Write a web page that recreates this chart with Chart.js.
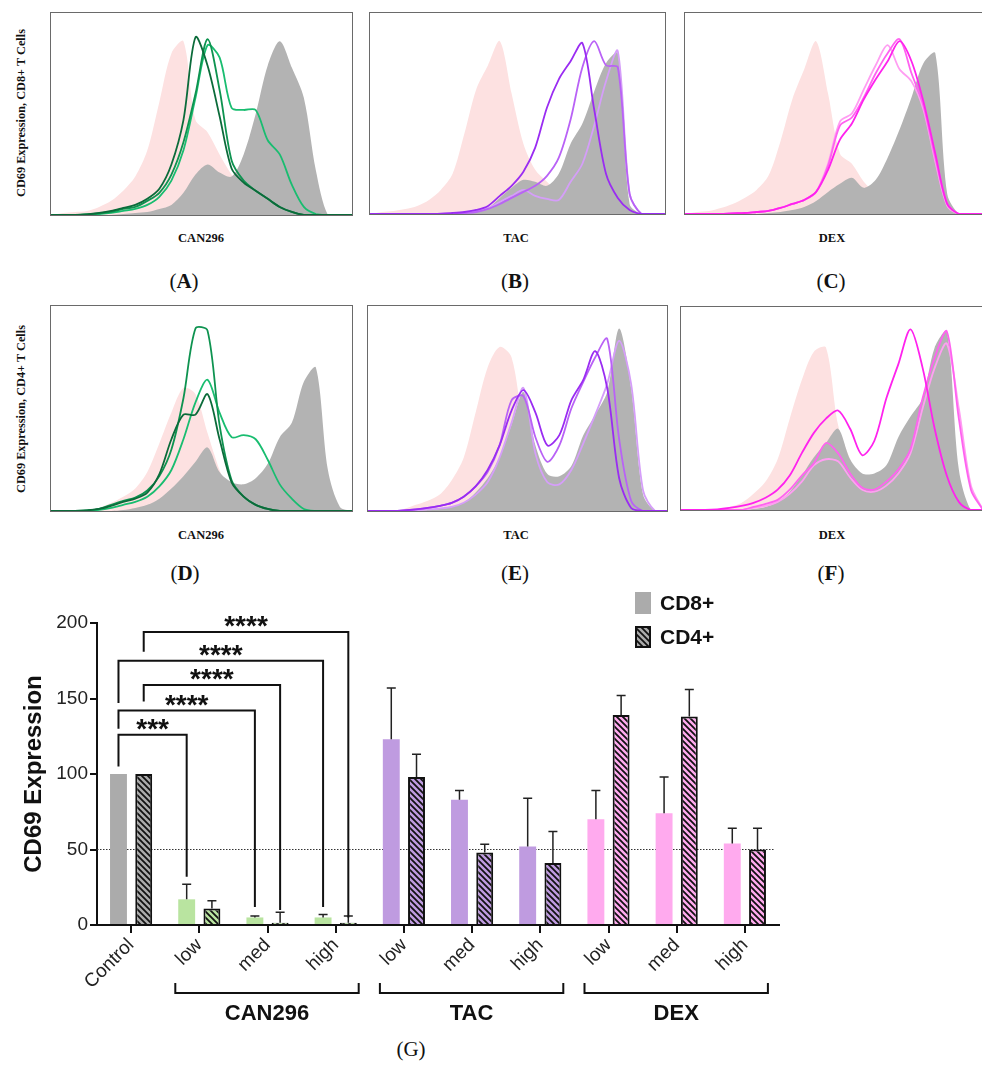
<!DOCTYPE html>
<html>
<head>
<meta charset="utf-8">
<script src="https://cdn.jsdelivr.net/npm/chart.js@4.4.0/dist/chart.umd.min.js"></script>
<style>
  body { margin:0; background:#fff; width:982px; height:1066px; position:relative; overflow:hidden; }
  .box { position:absolute; border:1px solid #6a6a6a; box-sizing:border-box; background:#fff; }
  .box canvas { position:absolute; left:0; top:0; }
  .lbl { position:absolute; font-family:"Liberation Serif","Times New Roman",serif; color:#111; white-space:nowrap; transform:translate(-50%,-50%); }
  .xl { font-weight:bold; font-size:12.5px; }
  .yl { font-weight:bold; font-size:12.3px; transform:translate(-50%,-50%) rotate(-90deg); }
  .pl { font-size:21px; }
  #bars { position:absolute; left:0; top:580px; }
</style>
</head>
<body>

<div class="lbl yl" style="left:21px;top:113px">CD69 Expression, CD8+ T Cells</div>
<div class="lbl yl" style="left:21px;top:409px">CD69 Expression, CD4+ T Cells</div>
<div class="lbl xl" style="left:201px;top:238px">CAN296</div>
<div class="lbl xl" style="left:516px;top:238px">TAC</div>
<div class="lbl xl" style="left:832px;top:238px">DEX</div>
<div class="lbl xl" style="left:201px;top:535px">CAN296</div>
<div class="lbl xl" style="left:516px;top:535px">TAC</div>
<div class="lbl xl" style="left:832px;top:535px">DEX</div>
<div class="lbl pl" style="left:184px;top:281px">(<b>A</b>)</div>
<div class="lbl pl" style="left:515px;top:281px">(<b>B</b>)</div>
<div class="lbl pl" style="left:831px;top:281px">(<b>C</b>)</div>
<div class="lbl pl" style="left:185px;top:573px">(<b>D</b>)</div>
<div class="lbl pl" style="left:515px;top:573px">(<b>E</b>)</div>
<div class="lbl pl" style="left:831px;top:573px">(<b>F</b>)</div>
<div class="lbl pl" style="left:411px;top:1049px">(G)</div>

<canvas id="bars" width="800" height="486"></canvas>

<script>
// ---- histogram data (x = 0..100 % of channel, y = % of panel height) ----
var xs = [0,4,8,12,16,20,24,28,32,36,40,44,48,52,56,60,64,68,72,76,80,84,88,92,96,100];

var pinkA  = [0,1,1.5,2,4,7,12,19,32,56,80,86,47,41,30,20,12,6,3,1,0,0,0,0,0,0];
var grayA  = [0,0,0,0,0,0,0.5,1,1.5,3,5,11,20,25,21,19,30,50,74,86,73,58,22,0,0,0];
var canA1  = [0,0,0,0.3,1,2,3.5,5,8,13,25,47,88,74,49,23,16,12,8,4,1.5,0,0,0,0,0];
var canA2  = [0,0,0,0.3,0.8,1.5,3,4,7,11,20,36,60,87,62,27,17,12,8,4,1.5,0,0,0,0,0];
var canA3  = [0,0,0,0.3,0.5,1,2,3,5,9,17,32,58,84,78,53,52,52,37,30,15,4,0.5,0,0,0];

var pinkB  = [0,1,1.5,2.5,4,7,12,20,40,62,74,86,60,35,22,16,10,6,3,1.5,0.5,0,0,0,0,0];
var grayB  = [0,0,0,0,0,0,0,0,0.5,1.5,3,8,13,17,16,14,20,35,45,61,75,80,5,0,0,0];
var tacB1  = [0,0,0,0,0,0,0.2,0.5,1,2,4,9,14,21,33,53,67,76,85,52,20,8,2,0,0,0];
var tacB2  = [0,0,0,0,0,0,0,0,0.5,1,2.5,5,8,11,14,19,28,47,73,86,74,73,10,0,0,0];
var tacB3  = [0,0,0,0,0,0,0,0.3,0.5,1.5,3,6,9,12,9,7.5,7,16,25,44,66,81,10,0,0,0];

var pinkC  = [0,1,1.5,3,5,8,12,19,36,57,72,86,60,30,25,16,10,6,3,1,0,0,0,0,0,0];
var grayC  = [0,0,0,0,0,0,0,0.5,1,2,3.5,6.5,11,15,18,13,17,28,42,58,75,80,10,0,0,0];
var dexC1  = [0,0,0,0,0.3,0.5,1,1.5,3,5,7,11,22,37,45,57,67,76,86,76,56,30,5,0,0,0];
var dexC2  = [0,0,0,0,0.3,0.5,1,1.5,3,5,7,11,24,44,48,58,70,80,87,70,54,28,5,0,0,0];
var dexC3  = [0,0,0,0,0.3,0.5,1,1.5,3,5,7,11,25,46,50,62,74,84,72,66,52,26,4,0,0,0];

var pinkD  = [0,0,0,0.5,1.5,4,7,11,19,33,48,60,57,38,20,7,2,0,0,0,0,0,0,0,0,0];
var grayD  = [0,0,0,0,0,0,0.5,1.5,3,6,11,17,24,31,19,14,13,16,23,36,43,63,70,20,2,0];
var canD1  = [0,0,0,0.3,1,2.5,4.5,6,9,18,35,47,47,57,35,14,7,3,1,0,0,0,0,0,0,0];
var canD2  = [0,0,0,0.3,1,3,5,6.5,10,17,30,55,89,88,42,15,7,3,1,0,0,0,0,0,0,0];
var canD3  = [0,0,0,0.2,0.5,1.5,3,4.5,7,12,20,35,53,64,48,36,37,35,25,13,6,1,0,0,0,0];

var pinkE  = [0,0,0,1,3,5,8,15,26,48,70,80,75,42,25,10,4,1,0,0,0,0,0,0,0,0];
var grayE  = [0,0,0,0,0,0.5,1,2,4,9,16,26,42,58,32,18,17,22,37,47,58,89,60,8,0,0];
var tacE1  = [0,0,0,0.3,0.8,1.5,2.5,4,7,12,20,32,49,59,48,32,37,54,64,78,60,16,1.5,0,0,0];
var tacE2  = [0,0,0,0.3,0.8,1.5,2.5,4,7,12,19,32,54,56,36,24,32,50,63,75,84,35,5,0,0,0];
var tacE3  = [0,0,0,0,0.3,0.8,1.2,2,4,8,14,26,43,60,28,14,13,20,33,47,62,83,62,10,0,0];

var pinkF  = [0,0,0,0.5,1.5,3.5,8,14,25,45,64,78,80,42,25,10,4,1,0,0,0,0,0,0,0,0];
var grayF  = [0,0,0,0,0,0,0.5,1.5,4,9,17,26,33,40,25,18,18,22,36,46,55,80,88,20,0,0];
var dexF1  = [0,0,0,0.3,1,2,3.5,6,10,17,28,38,45,49,40,27,34,55,72,89,70,40,17,4,0,0];
var dexF2  = [0,0,0,0,0,0,1.5,3,5,10,17,23,33,28,18,11,10,14,20,30,55,75,88,45,10,0];
var dexF3  = [0,0,0,0,0,0,1,2,4,8,14,22,25,24,16,10,9,12,18,28,50,70,82,50,12,0];

var greens   = ["#0b6b3a", "#0e9350", "#19bd70"];
var purples  = ["#9a2cf2", "#b962f6", "#d59ef9"];
var magentas = ["#ff22ee", "#ff62f0", "#ff9ef2"];

// ---- bar chart data ----
var categories = ["Control","low","med","high","low","med","high","low","med","high"];
var cd8Values  = [100, 17, 5, 5, 123, 83, 52, 70, 74, 54];
var cd8Errors  = [0, 10, 1, 2, 34, 6, 32, 19, 24, 10];
var cd4Values  = [100, 11, 1.5, 1.5, 98, 48, 41, 139, 138, 50];
var cd4Errors  = [0, 5, 7, 4.5, 15, 5.5, 21, 13, 18, 14];
var barColors  = ["#ababab","#b9e4a0","#b9e4a0","#b9e4a0","#bf9be0","#bf9be0","#bf9be0","#ffaaee","#ffaaee","#ffaaee"];

var groupNames = ["CAN296", "TAC", "DEX"];
var groupFirst = [1, 4, 7];
var groupLast  = [3, 6, 9];

var refLevel = 50;

var sigLeftSeries  = [0, 0, 1, 0, 1];
var sigRightCat    = [1, 2, 2, 3, 3];
var sigRightSeries = [0, 0, 1, 0, 1];
var sigHeight      = [126, 142, 159, 175, 194];
var sigLeftFoot    = [105, 130, 148, 147, 181];
var sigRightFoot   = [32, 12, 10, 12, 5];
var sigStars       = ["***", "****", "****", "****", "****"];

function pts(arr) {
  return arr.map(function (v, i) { return { x: xs[i], y: v }; });
}

function histograma(left, top, w, h, pink, gray, linhas, cores) {
  var box = document.createElement("div");
  box.className = "box";
  box.style.left = left + "px";
  box.style.top = top + "px";
  box.style.width = w + "px";
  box.style.height = h + "px";
  var cv = document.createElement("canvas");
  cv.width = w - 2;
  cv.height = h - 2;
  box.appendChild(cv);
  document.body.appendChild(box);

  var sets = linhas.map(function (l, i) {
    return { data: pts(l), borderColor: cores[i], borderWidth: 1.8, fill: false, tension: 0.3 };
  });
  sets.push({ data: pts(gray), backgroundColor: "#b3b3b3", borderWidth: 0, fill: "origin", tension: 0.3 });
  sets.push({ data: pts(pink), backgroundColor: "#fde1e1", borderWidth: 0, fill: "origin", tension: 0.3 });

  new Chart(cv.getContext("2d"), {
    type: "line",
    data: { datasets: sets },
    options: {
      responsive: false,
      animation: false,
      events: [],
      layout: { padding: 0 },
      elements: { point: { radius: 0 } },
      plugins: { legend: { display: false }, tooltip: { enabled: false } },
      scales: {
        x: { type: "linear", min: 0, max: 100, display: false },
        y: { min: 0, max: 100, display: false },
      },
    },
  });
}

histograma(50, 12, 303, 204, pinkA, grayA, [canA1, canA2, canA3], greens);
histograma(369, 12, 297, 203, pinkB, grayB, [tacB1, tacB2, tacB3], purples);
histograma(684, 12, 300, 203, pinkC, grayC, [dexC1, dexC2, dexC3], magentas);
histograma(50, 305, 303, 207, pinkD, grayD, [canD1, canD2, canD3], greens);
histograma(367, 305, 301, 207, pinkE, grayE, [tacE1, tacE2, tacE3], purples);
histograma(680, 306, 304, 205, pinkF, grayF, [dexF1, dexF2, dexF3], magentas);

// ---- bar chart (G) ----
function hachura(bg) {
  var s = 6;
  var c = document.createElement("canvas");
  c.width = s;
  c.height = s;
  var g = c.getContext("2d");
  g.fillStyle = bg;
  g.fillRect(0, 0, s, s);
  g.strokeStyle = "#111";
  g.lineWidth = 1.8;
  g.beginPath();
  g.moveTo(-1, -1); g.lineTo(s + 1, s + 1);
  g.moveTo(s - 2, -2); g.lineTo(s + 2, 2);
  g.moveTo(-2, s - 2); g.lineTo(2, s + 2);
  g.stroke();
  return g.createPattern(c, "repeat");
}

var sans = "'Liberation Sans', Arial, sans-serif";

var extras = {
  id: "extras",
  beforeDatasetsDraw: function (chart) {
    var ctx = chart.ctx, a = chart.chartArea;
    var y = chart.scales.y.getPixelForValue(refLevel);
    ctx.save();
    ctx.strokeStyle = "#333";
    ctx.lineWidth = 1;
    ctx.setLineDash([1.5, 1.5]);
    ctx.beginPath();
    ctx.moveTo(a.left, y);
    ctx.lineTo(a.right - 4, y);
    ctx.stroke();
    ctx.restore();
  },
  afterDraw: function (chart) {
    var ctx = chart.ctx, ys = chart.scales.y, xsc = chart.scales.x, a = chart.chartArea;
    ctx.save();

    // error bars
    ctx.strokeStyle = "#222";
    ctx.lineWidth = 1.5;
    [cd8Errors, cd4Errors].forEach(function (errs, di) {
      var vals = chart.data.datasets[di].data;
      chart.getDatasetMeta(di).data.forEach(function (bar, i) {
        if (!errs[i]) return;
        var topY = ys.getPixelForValue(vals[i] + errs[i]);
        ctx.beginPath();
        ctx.moveTo(bar.x, bar.y);
        ctx.lineTo(bar.x, topY);
        ctx.moveTo(bar.x - 4.5, topY);
        ctx.lineTo(bar.x + 4.5, topY);
        ctx.stroke();
      });
    });

    // significance brackets
    ctx.strokeStyle = "#111";
    ctx.lineWidth = 2;
    ctx.fillStyle = "#111";
    ctx.font = "bold 28px " + sans;
    ctx.textAlign = "center";
    ctx.textBaseline = "alphabetic";
    sigHeight.forEach(function (h, k) {
      var x1 = chart.getDatasetMeta(sigLeftSeries[k]).data[0].x;
      var x2 = chart.getDatasetMeta(sigRightSeries[k]).data[sigRightCat[k]].x;
      var yh = ys.getPixelForValue(h);
      ctx.beginPath();
      ctx.moveTo(x1, ys.getPixelForValue(sigLeftFoot[k]));
      ctx.lineTo(x1, yh);
      ctx.lineTo(x2, yh);
      ctx.lineTo(x2, ys.getPixelForValue(sigRightFoot[k]));
      ctx.stroke();
      ctx.fillText(sigStars[k], (x1 + x2) / 2, yh + 3);
    });

    // treatment group brackets
    ctx.font = "bold 22px " + sans;
    ctx.textBaseline = "middle";
    groupNames.forEach(function (nome, k) {
      var g1 = xsc.getPixelForValue(groupFirst[k]) - 24;
      var g2 = xsc.getPixelForValue(groupLast[k]) + 23;
      var yb = a.bottom + 68;
      ctx.beginPath();
      ctx.moveTo(g1, yb - 10);
      ctx.lineTo(g1, yb);
      ctx.lineTo(g2, yb);
      ctx.lineTo(g2, yb - 10);
      ctx.stroke();
      ctx.fillText(nome, (g1 + g2) / 2, yb + 21);
    });

    // legend
    var lx = a.right - 144;
    ctx.textAlign = "left";
    ctx.font = "bold 21px " + sans;
    chart.data.datasets.forEach(function (ds, di) {
      var ly = 12 + di * 34;
      ctx.fillStyle = ds.backgroundColor[0];
      ctx.fillRect(lx, ly, 16, 22);
      if (ds.borderWidth) {
        ctx.lineWidth = 2;
        ctx.strokeStyle = "#111";
        ctx.strokeRect(lx + 1, ly + 1, 14, 20);
      }
      ctx.fillStyle = "#111";
      ctx.fillText(ds.label, lx + 25, ly + 12);
    });

    ctx.restore();
  },
};

new Chart(document.getElementById("bars").getContext("2d"), {
  type: "bar",
  data: {
    labels: categories,
    datasets: [
      { label: "CD8+", data: cd8Values, backgroundColor: barColors, borderWidth: 0 },
      { label: "CD4+", data: cd4Values, backgroundColor: barColors.map(hachura), borderColor: "#111", borderWidth: 2 },
    ],
  },
  options: {
    responsive: false,
    animation: false,
    events: [],
    categoryPercentage: 0.74,
    barPercentage: 0.67,
    layout: { padding: { top: 43, right: 21, left: 0, bottom: 0 } },
    plugins: { legend: { display: false }, tooltip: { enabled: false } },
    scales: {
      x: {
        afterFit: function (s) { s.height = 141; },
        grid: { display: true, drawOnChartArea: false, drawTicks: true, tickLength: 8, offset: false, color: "#111", lineWidth: 2 },
        border: { display: true, color: "#111", width: 2 },
        ticks: { font: { family: sans, size: 19 }, color: "#222", minRotation: 45, maxRotation: 45, autoSkip: false, padding: 1 },
      },
      y: {
        min: 0,
        max: 200,
        afterFit: function (s) { s.width = 97; },
        grid: { display: true, drawOnChartArea: false, drawTicks: true, tickLength: 7, color: "#111", lineWidth: 2 },
        border: { display: true, color: "#111", width: 2 },
        ticks: { stepSize: 50, font: { family: sans, size: 19 }, color: "#222", padding: 2 },
        title: { display: true, text: "CD69 Expression", font: { family: sans, size: 24, weight: "bold" }, color: "#111", padding: { top: 20, bottom: 0 } },
      },
    },
  },
  plugins: [extras],
});
</script>
</body>
</html>
